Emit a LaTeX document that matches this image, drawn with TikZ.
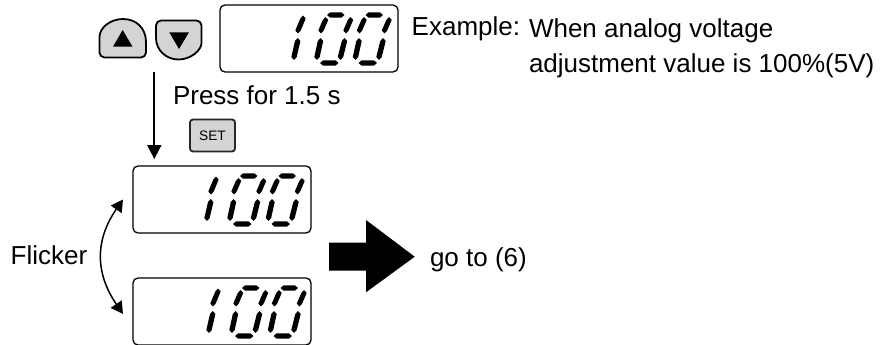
\documentclass[tikz,border=0pt]{standalone}
\usepackage{fontspec}
\setmainfont{Liberation Sans}
\usetikzlibrary{arrows.meta}
\newcommand{\vseg}[4]{\fill (\ox+#1,\oy+#2) -- (\ox+#1+2.7,\oy+#2+3) -- (\ox+#3+2.7,\oy+#4-3) -- (\ox+#3,\oy+#4) -- (\ox+#3-2.7,\oy+#4-3) -- (\ox+#1-2.7,\oy+#2+3) -- cycle;}
\newcommand{\hseg}[3]{\fill (\ox+#1,\oy+#3) -- (\ox+#1+3,\oy+#3-2.6) -- (\ox+#2-3,\oy+#3-2.6) -- (\ox+#2,\oy+#3) -- (\ox+#2-3,\oy+#3+2.6) -- (\ox+#1+3,\oy+#3+2.6) -- cycle;}
\newcommand{\zerodigit}{%
  \hseg{107}{124.5}{10}
  \hseg{100}{118.5}{58}
  \vseg{105.5}{12}{101}{28.5}
  \vseg{100.5}{33}{97}{55}
  \vseg{130.5}{12}{126}{28.5}
  \vseg{124.5}{33}{120.5}{55}
}
\newcommand{\hundredat}[2]{%
  \def\ox{#1}\def\oy{#2}%
  \vseg{83}{10.5}{78}{28.5}
  \vseg{77.7}{33}{74}{55}
  \zerodigit
  \def\ox{#1+38.5}%
  \zerodigit
}
\tikzset{
  txt/.style={anchor=base west,inner sep=0pt,outer sep=0pt,font=\fontsize{26}{30}\selectfont},
  display/.style={draw,anchor=north west,rounded corners=5pt,line width=1.3pt,minimum width=178pt,minimum height=67pt,inner sep=0pt,outer sep=0pt},
  btn/.style={draw,fill=btngray,line width=1.8pt,line join=round},
  setbtn/.style={draw=black!85,fill=btngray,rounded corners=3pt,line width=1.8pt,minimum width=45pt,minimum height=32pt,inner sep=0pt,outer sep=0pt,font=\fontsize{13.7}{15}\selectfont},
  conn/.style={line width=2pt,-{Triangle[length=14pt,width=14pt]}},
  flick/.style={line width=1.5pt,{Triangle[length=12pt,width=13pt]}-{Triangle[length=12pt,width=13pt]}},
}
\definecolor{btngray}{HTML}{D4D4D4}
\begin{document}
\begin{tikzpicture}[x=1pt,y=-1pt]
\useasboundingbox (0,0) rectangle (892,345);
% buttons
\draw[btn] (99.5,42) .. controls (99.5,28) and (110,19) .. (123,19) .. controls (136,19) and (146,28) .. (146,42) [rounded corners=5pt] -- (146,57.5) -- (99.5,57.5) -- cycle;
\fill (122.7,30) -- (132.5,46.7) -- (113,46.7) -- cycle;
\draw[btn] (201.5,38) .. controls (201.5,50) and (191,59.5) .. (178.5,59.5) .. controls (166,59.5) and (156,50) .. (156,38) [rounded corners=5pt] -- (156,20.5) -- (201.5,20.5) -- cycle;
\fill (169.3,32.3) -- (189,32.3) -- (179,49) -- cycle;
% displays
\node[display] (d1) at (220,5) {};
\node[display] (d2) at (133,166) {};
\node[display] (d3) at (133,278) {};
\hundredat{220}{5}
\hundredat{133}{166}
\hundredat{135}{278}
% set
\node[setbtn] (set) at (212.5,135.5) {SET};
% arrows
\coordinate (downstart) at (154.3,72);
\coordinate (downend) at (154.3,159);
\draw[conn] (downstart) -- (downend);
\coordinate (flickA) at (123,199.5);
\coordinate (flickB) at (123,314);
\draw[flick] (flickA) .. controls (95,240) and (95,273) .. (flickB);
\fill (329,242.7) -- (366,242.7) -- (366,220) -- (414.7,256.7) -- (366,292.3) -- (366,270.7) -- (329,270.7) -- cycle;
% text
\node[txt] (ex) at (411.7,35.7) {Example:};
\node[txt] (w1) at (529,37.7) {When analog voltage};
\node[txt] (w2) at (529,72.7) {adjustment value is 100\%(5V)};
\node[txt] (press) at (173,104) {Press for 1.5 s};
\node[txt] (flicker) at (10.7,264) {Flicker};
\node[txt] (go) at (430,266) {go to (6)};
\end{tikzpicture}
\end{document}
